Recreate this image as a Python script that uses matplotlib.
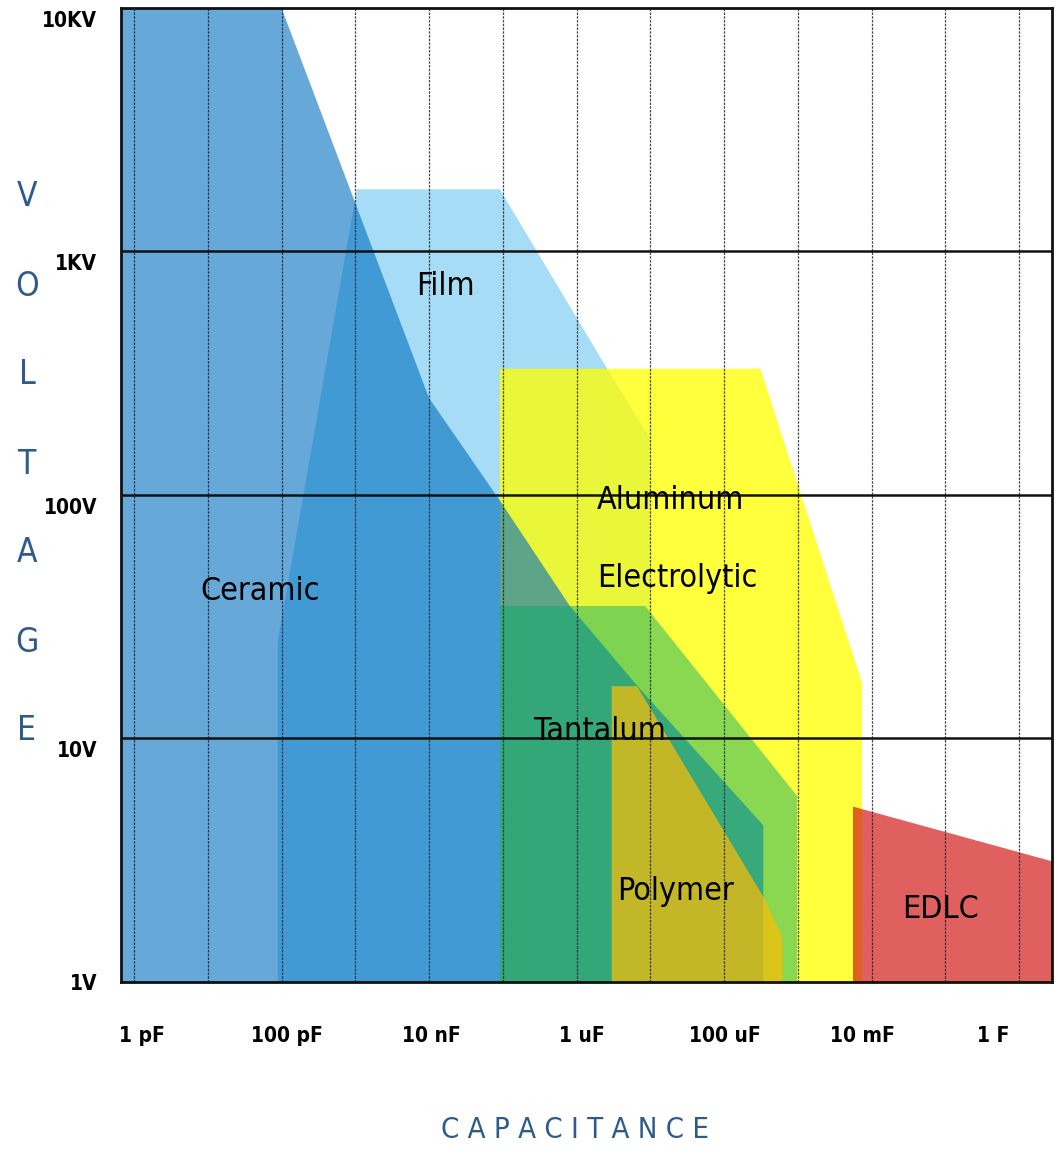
import numpy as np
import matplotlib.pyplot as plt
import matplotlib.transforms as mtransforms

# capacitor technology regions (capacitance in F, voltage in V)
film_cap = [8.9e-11, 8.9e-11, 1.05e-9, 9.1e-8, 2.6e-6, 1e-5, 1e-5]
film_volt = [1, 25, 1800, 1800, 330, 170, 1]

alu_cap = [9.1e-8, 9.1e-8, 3.1e-4, 7.4e-3, 7.4e-3]
alu_volt = [1, 330, 330, 17, 1]

ceramic_cap = [1e-13, 1e-10, 1e-8, 9.1e-8, 8.1e-7, 7.2e-6, 3.4e-4, 3.4e-4, 1e-13]
ceramic_volt = [1e4, 1e4, 250, 95, 35, 16, 4.4, 1, 1]

tant_cap = [9.1e-8, 9.1e-8, 8.5e-6, 9.8e-4, 9.8e-4]
tant_volt = [1, 35, 35, 5.8, 1]

poly_cap = [3e-6, 3e-6, 6.6e-6, 3.4e-4, 6.2e-4, 6.2e-4]
poly_volt = [1, 16.4, 16.4, 2.24, 1.53, 1]

edlc_cap = [5.6e-3, 5.6e-3, 2.8, 2.8]
edlc_volt = [1, 5.25, 3.13, 1]

# axis ticks
x_ticks = [1e-12, 1e-10, 1e-8, 1e-6, 1e-4, 1e-2, 1]
x_labels = ["1 pF", "100 pF", "10 nF", "1 uF", "100 uF", "10 mF", "1 F"]
y_ticks = [1, 10, 100, 1000, 10000]
y_labels = ["1V", "10V", "100V", "1KV", "10KV"]

narrow = dict(family="DejaVu Sans", stretch="condensed")
title_blue = "#2f5b8c"

fig = plt.figure(figsize=(10.58, 11.55), dpi=100)
ax = fig.add_axes([0.1144, 0.1498, 0.880, 0.8433])
ax.set_xscale("log")
ax.set_yscale("log")

# regions, drawn in stacking order
ax.fill(film_cap, film_volt, color="#a6dcf5", lw=0, zorder=1)
ax.fill(alu_cap, alu_volt, color=(1, 1, 0), alpha=0.77, lw=0, zorder=2)
ax.fill(ceramic_cap, ceramic_volt, color=(0, 110 / 255, 190 / 255), alpha=0.6, lw=0, zorder=3)
ax.fill(tant_cap, tant_volt, color=(6 / 255, 172 / 255, 106 / 255), alpha=0.47, lw=0, zorder=4)
ax.fill(poly_cap, poly_volt, color=(1, 190 / 255, 5 / 255), alpha=0.7, lw=0, zorder=5)
ax.fill(edlc_cap, edlc_volt, color=(209 / 255, 18 / 255, 18 / 255), alpha=0.67, lw=0, zorder=6)

ax.set_xlim(6.67e-13, 2.8)
ax.set_ylim(1, 1e4)

# grid: dotted decades, solid voltage lines
for d in range(-12, 1):
    ax.axvline(10.0 ** d, color="#1a1a2a", lw=0.9, ls=(0, (2, 1)), alpha=0.8, zorder=7)
for v in [10, 100, 1000]:
    ax.axhline(v, color="#111111", lw=1.8, zorder=7)

for s in ax.spines.values():
    s.set_linewidth(2)
    s.set_color("#111111")
    s.set_zorder(8)

ax.set_xticks(x_ticks)
ax.set_xticklabels(x_labels, fontsize=15, fontweight="bold", **narrow)
ax.set_yticks(y_ticks)
ax.set_yticklabels(y_labels, fontsize=15, fontweight="bold", **narrow)
ax.minorticks_off()
ax.tick_params(axis="x", length=0, pad=32)
ax.tick_params(axis="y", length=0, pad=17)

# nudge labels the way the original artwork places them
x_shift = [8, 5, 2, 5, 1, -9, -26]
for lbl, dx in zip(ax.get_xticklabels(), x_shift):
    lbl.set_transform(lbl.get_transform() + mtransforms.Affine2D().translate(dx, 0))
for lbl in ax.get_yticklabels()[1:]:
    lbl.set_va("top")
    lbl.set_transform(lbl.get_transform() + mtransforms.Affine2D().translate(0, -3))

# region labels
lab = dict(fontsize=23, color="black", zorder=9, **narrow)
ax.text(10 ** -10.29, 40, "Ceramic", ha="center", va="center", **lab)
ax.text(10 ** -7.78, 721, "Film", ha="center", va="center", **lab)
ax.text(10 ** -5.72, 95, "Aluminum", ha="left", va="center", **lab)
ax.text(10 ** -5.72, 45.5, "Electrolytic", ha="left", va="center", **lab)
ax.text(10 ** -5.68, 10.7, "Tantalum", ha="center", va="center", **lab)
ax.text(10 ** -4.66, 2.35, "Polymer", ha="center", va="center", **lab)
ax.text(10 ** -1.07, 1.98, "EDLC", ha="center", va="center", **lab)

# axis titles
for i, ch in enumerate("VOLTAGE"):
    fig.text(27 / 1058, 1 - (197 + 89 * i) / 1155, ch, ha="center", va="center",
             fontsize=24, color=title_blue, **narrow)
fig.text(575 / 1058, 1 - 1130 / 1155, "C A P A C I T A N C E", ha="center", va="center",
         fontsize=21, color=title_blue, **narrow)

fig.savefig("out.png", dpi=100)
